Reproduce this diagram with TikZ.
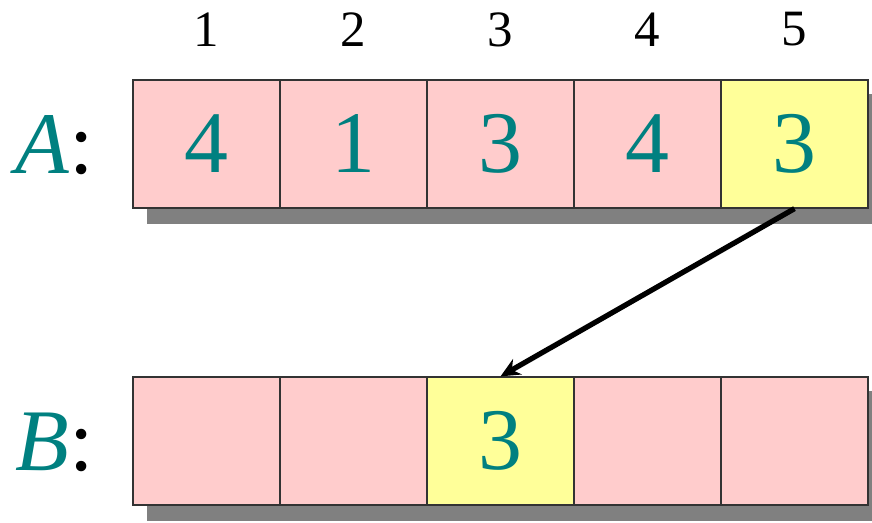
\documentclass[tikz,border=0pt]{standalone}
\usepackage{fontspec}
\setmainfont{Liberation Serif}
\usetikzlibrary{arrows.meta,calc,backgrounds}

\definecolor{cellpink}{HTML}{FFCCCC}
\definecolor{cellyellow}{HTML}{FFFF99}
\definecolor{numteal}{RGB}{0,128,128}

\begin{document}
\begin{tikzpicture}[
    cell/.style={draw=black!80, line width=0.7pt, minimum width=2.94cm, minimum height=2.56cm, inner sep=0pt, fill=cellpink, text=numteal, font=\fontsize{50}{60}\selectfont},
    hit/.style={cell, fill=cellyellow},
    idx/.style={font=\fontsize{29}{34}\selectfont},
    lbl/.style={font=\fontsize{50}{60}\selectfont, inner sep=0pt},
    arr/.style={-{Stealth[length=11pt, width=10pt]}, line width=3pt},
    shade/.style={fill=black!50}
]
\useasboundingbox (0,0) rectangle (17.44,-10.46);

% array A
\foreach \v [count=\i] in {4,1,3,4}
    \node[cell] (a\i) at ({1.19+2.94*\i},-2.88) {\v};
\node[hit] (a5) at (15.89,-2.88) {3};
\foreach \i in {1,...,5}
    \node[idx] (n\i) at ($(a\i.north)+(0,1.0)$) {\i};
\node[lbl] (la) at (1.1,-2.9) {\textcolor{numteal}{\textit{A}}:};

% array B
\foreach \i in {1,2,4,5}
    \node[cell] (b\i) at ({1.19+2.94*\i},-8.82) {};
\node[hit] (b3) at (10.01,-8.82) {3};
\node[lbl] (lb) at (1.1,-8.84) {\textcolor{numteal}{\textit{B}}:};

\begin{scope}[on background layer]
\fill[shade] ($(a1.north west)+(0.3,-0.3)$) rectangle ($(a5.south east)+(0.3,-0.3)$);
\fill[shade] ($(b1.north west)+(0.3,-0.3)$) rectangle ($(b5.south east)+(0.3,-0.3)$);
\end{scope}

\draw[arr] (a5.south) -- (b3.north);
\end{tikzpicture}
\end{document}
